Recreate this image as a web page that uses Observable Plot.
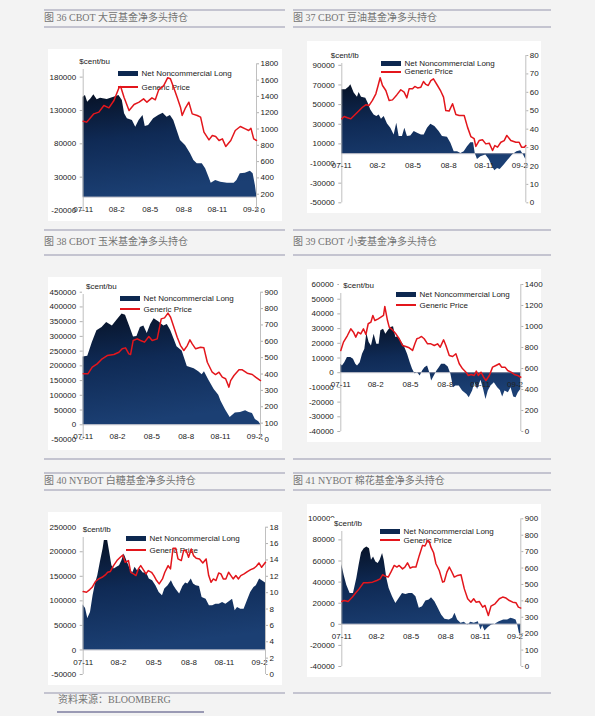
<!DOCTYPE html>
<html><head><meta charset="utf-8">
<script src="https://cdn.jsdelivr.net/npm/d3@7"></script>
<script src="https://cdn.jsdelivr.net/npm/@observablehq/plot@0.6"></script>
<style>
body{margin:0;background:#f3f3f3;width:595px;height:716px;position:relative;overflow:hidden;font-family:"Liberation Sans",Arial,sans-serif;}
.hr{position:absolute;height:1.5px;background:#c4c4d0;}
.title{position:absolute;font-family:"Liberation Serif","Noto Sans CJK SC",serif;font-size:10px;line-height:12px;color:#747474;white-space:nowrap;letter-spacing:0px;}
.box{position:absolute;background:#fff;}
.box svg{position:absolute;left:0;top:0;}
.unit{position:absolute;font-size:8px;line-height:9px;color:#222;background:#fff;padding:1px 3px 3px 4px;white-space:nowrap;}
.leg{position:absolute;font-size:8px;line-height:9px;color:#222;white-space:nowrap;}
.sw{position:absolute;}
</style></head><body>
<script>
// ---------- shared x ticks (months since 2007-11) ----------
const xTickMonths = [0, 3, 6, 9, 12, 15];
const xTickLabels = ["07-11", "08-2", "08-5", "08-8", "08-11", "09-2"];
const xDomain = [0, 15.5];

// ---------- Fig 36 CBOT soybean ----------
const soyNet = [[0,150000],[0.2,152500],[0.4,142500],[0.7,147500],[0.95,153500],[1.25,146000],[1.55,148500],[2.15,146500],[2.75,150000],[3.2,152500],[3.5,145000],[3.7,125000],[3.95,117500],[4.4,115000],[4.7,105000],[5.0,115000],[5.35,122500],[5.55,106000],[5.85,107500],[6.3,117500],[6.75,122500],[7.15,126000],[7.5,120000],[7.8,122500],[8.1,115000],[8.4,100000],[8.7,85000],[9.15,77500],[9.6,65000],[9.9,55000],[10.2,50000],[10.65,50000],[10.95,42500],[11.25,30000],[11.45,21000],[11.85,25000],[12.3,22500],[12.9,21000],[13.5,21000],[13.75,25000],[14.05,35000],[14.5,36000],[14.95,39000],[15.2,35000],[15.4,17500],[15.5,5000]];
const soyPrice = [[0,1096],[0.3,1084],[0.5,1113],[0.95,1186],[1.4,1207],[1.85,1288],[2.3,1260],[2.75,1350],[3.2,1505],[3.35,1521],[3.65,1390],[4.1,1227],[4.55,1300],[5.0,1329],[5.4,1370],[5.7,1329],[6.15,1382],[6.45,1358],[6.75,1480],[7.2,1533],[7.55,1628],[7.8,1616],[8.1,1505],[8.4,1390],[8.7,1268],[8.85,1166],[9.15,1260],[9.45,1329],[9.75,1186],[10.2,1166],[10.5,1145],[10.8,961],[11.25,867],[11.55,920],[11.85,908],[12.15,859],[12.45,879],[12.75,785],[13.2,859],[13.6,982],[14.05,1031],[14.5,1002],[14.8,982],[15.0,1010],[15.25,879],[15.5,859]];
const soyLeftTicks = [-20000, 30000, 80000, 130000, 180000];
const soyRightTicks = [0, 200, 400, 600, 800, 1000, 1200, 1400, 1600, 1800];

// ---------- Fig 37 CBOT soybean oil ----------
const soyOilNet = [[0,65000],[0.34,65000],[0.62,67800],[0.76,70200],[1.04,61700],[1.32,57600],[1.46,62300],[1.66,57600],[2.02,56500],[2.22,51400],[2.44,44600],[2.72,39500],[2.95,37800],[3.15,39500],[3.34,35100],[3.57,37800],[3.85,30300],[4.13,25900],[4.41,19100],[4.63,31000],[4.83,17400],[5.11,17400],[5.31,25900],[5.53,17400],[5.81,18100],[6.1,22500],[6.38,20800],[6.71,19100],[6.94,19100],[7.22,25900],[7.5,30000],[7.84,27600],[8.2,22500],[8.48,17400],[8.9,16700],[9.19,10600],[9.47,2000],[9.75,2000],[10.03,300],[10.31,2000],[10.59,7200],[10.87,11200],[11.1,11200],[11.24,300],[11.43,-5800],[11.71,-3100],[12.13,-1400],[12.42,-5800],[12.7,-13300],[12.89,-17400],[13.12,-15000],[13.34,-16000],[13.68,-11600],[14.02,-6500],[14.38,-1400],[14.75,2000],[15.08,3100],[15.31,-1400],[15.5,-5800]];
const soyOilPrice = [[0,45.6],[0.2,46.9],[0.48,46.2],[0.76,45.6],[1.04,47.4],[1.32,49.2],[1.74,51.9],[2.02,53.2],[2.3,52.9],[2.58,55.6],[2.87,59.2],[3.06,63.7],[3.23,67.9],[3.43,63.7],[3.71,61.0],[3.99,55.6],[4.27,55.9],[4.63,58.6],[4.97,61.4],[5.25,60.1],[5.48,57.0],[5.67,61.9],[5.96,61.9],[6.15,63.2],[6.38,62.4],[6.66,62.8],[6.88,65.9],[7.08,64.3],[7.28,63.7],[7.5,66.4],[7.72,67.3],[8.06,63.7],[8.34,60.6],[8.57,57.4],[8.76,50.1],[9.04,49.8],[9.33,53.8],[9.61,48.0],[9.89,47.4],[10.31,47.4],[10.59,41.1],[10.87,36.0],[11.15,34.8],[11.29,30.6],[11.57,33.8],[11.85,34.2],[12.13,32.0],[12.42,32.4],[12.7,28.4],[12.89,31.1],[13.12,30.2],[13.4,32.9],[13.68,33.8],[13.9,36.6],[14.24,33.8],[14.66,32.9],[14.94,32.9],[15.14,30.2],[15.37,30.2],[15.5,31.1]];
const soyOilLeftTicks = [-50000, -30000, -10000, 10000, 30000, 50000, 70000, 90000];
const soyOilRightTicks = [0, 10, 20, 30, 40, 50, 60, 70, 80];

// ---------- Fig 38 CBOT corn ----------
const cornNet = [[0,230000],[0.4,233000],[0.8,279000],[1.2,319000],[1.65,330000],[2.05,347000],[2.55,335000],[2.95,355000],[3.4,376000],[3.7,372000],[4.1,330000],[4.4,298000],[4.7,300000],[5.0,330000],[5.3,335000],[5.6,310000],[5.9,340000],[6.2,360000],[6.6,350000],[7.05,335000],[7.35,340000],[7.65,320000],[7.95,290000],[8.2,265000],[8.65,250000],[9.1,198000],[9.7,190000],[10.1,180000],[10.4,170000],[10.6,180000],[11.0,150000],[11.45,120000],[11.85,100000],[12.05,80000],[12.45,50000],[12.85,25000],[13.3,40000],[13.75,42000],[14.2,48000],[14.5,42000],[14.8,38000],[15.05,18000],[15.35,10000],[15.5,2000]];
const cornPrice = [[0,401],[0.41,401],[0.79,442],[1.22,462],[1.66,493],[2.1,513],[2.68,519],[3.12,533],[3.41,554],[3.7,560],[3.99,523],[4.14,519],[4.37,605],[4.72,615],[5.01,605],[5.36,595],[5.74,629],[6.03,605],[6.47,615],[6.82,737],[7.11,743],[7.41,772],[7.64,747],[7.93,686],[8.22,625],[8.51,574],[8.8,544],[9.1,574],[9.33,609],[9.53,584],[9.83,554],[10.26,564],[10.55,560],[10.85,472],[11.28,411],[11.57,397],[11.87,411],[12.16,381],[12.45,371],[12.74,320],[12.89,360],[13.18,391],[13.62,426],[13.91,426],[14.34,405],[14.78,397],[15.07,381],[15.5,360]];
const cornLeftTicks = [-50000, 0, 50000, 100000, 150000, 200000, 250000, 300000, 350000, 400000, 450000];
const cornRightTicks = [0, 100, 200, 300, 400, 500, 600, 700, 800, 900];

// ---------- Fig 39 CBOT wheat ----------
const wheatNet = [[0,5700],[0.14,4600],[0.34,6800],[0.57,10300],[0.86,10300],[1.09,9100],[1.29,5700],[1.44,4600],[1.67,6800],[1.87,12500],[2.07,16000],[2.24,26700],[2.44,20500],[2.64,18200],[2.87,26200],[3.1,19400],[3.3,19400],[3.45,28500],[3.68,29600],[3.88,26200],[4.08,28500],[4.31,30800],[4.54,31200],[4.74,23900],[4.94,24400],[5.17,21700],[5.46,18200],[5.75,12500],[5.98,6800],[6.18,2300],[6.38,-700],[6.61,0],[6.84,-2300],[7.04,1100],[7.24,3400],[7.47,4600],[7.7,-1100],[7.82,-5700],[8.05,-2300],[8.28,1100],[8.48,3400],[8.68,5700],[8.97,5700],[9.25,3900],[9.48,-1100],[9.71,-10300],[9.91,-9100],[10.2,-9100],[10.49,-12500],[10.86,-14800],[11.06,-17100],[11.35,-12500],[11.55,-6800],[11.78,-11400],[12.07,-5200],[12.3,-11400],[12.5,-18200],[12.7,-12500],[12.93,-9100],[13.22,-6800],[13.51,-10300],[13.74,-12100],[13.94,-16600],[14.14,-12500],[14.43,-13700],[14.66,-10300],[14.89,-16600],[15.09,-17100],[15.29,-13700],[15.5,-11400]];
const wheatPrice = [[0,772],[0.23,851],[0.57,914],[0.86,978],[1.09,946],[1.29,899],[1.49,946],[1.72,930],[1.95,978],[2.16,924],[2.36,1026],[2.59,1041],[2.76,1105],[2.93,1057],[3.22,1073],[3.45,1089],[3.68,1105],[3.79,1191],[4.02,1057],[4.17,994],[4.45,968],[4.74,930],[5.03,883],[5.32,819],[5.6,810],[5.89,797],[6.18,772],[6.38,835],[6.55,883],[6.75,892],[6.95,905],[7.18,883],[7.47,835],[7.76,835],[8.05,819],[8.33,835],[8.56,803],[8.85,873],[9.05,819],[9.34,724],[9.63,714],[9.91,740],[10.2,645],[10.49,597],[10.78,565],[10.98,533],[11.21,543],[11.49,533],[11.67,575],[11.84,533],[12.07,565],[12.3,517],[12.5,486],[12.79,533],[13.07,613],[13.36,629],[13.65,645],[13.85,613],[14.14,613],[14.37,581],[14.66,565],[14.94,543],[15.23,533],[15.5,517]];
const wheatLeftTicks = [-40000, -30000, -20000, -10000, 0, 10000, 20000, 30000, 40000, 50000, 60000];
const wheatRightTicks = [0, 200, 400, 600, 800, 1000, 1200, 1400];

// ---------- Fig 40 NYBOT sugar ----------
const sugarNet = [[0,91300],[0.2,84400],[0.39,64000],[0.62,76300],[0.84,110300],[1.04,134200],[1.24,151200],[1.46,178400],[1.69,205700],[1.8,222700],[2.08,222700],[2.25,198900],[2.44,171600],[2.64,164800],[2.87,168200],[3.09,171600],[3.29,181800],[3.48,195400],[3.71,181800],[3.99,164800],[4.21,156600],[4.41,168200],[4.61,161400],[4.83,164800],[5.11,156600],[5.39,156600],[5.62,144400],[5.9,141000],[6.18,130800],[6.46,117100],[6.74,110300],[6.94,123900],[7.22,130800],[7.5,141000],[7.7,130800],[7.92,122600],[8.2,113700],[8.48,129400],[8.71,136200],[8.9,134200],[9.19,144400],[9.38,134200],[9.61,130800],[9.89,129400],[10.11,106900],[10.45,103500],[10.73,89900],[11.01,89900],[11.29,93300],[11.57,93300],[11.85,96700],[12.13,93300],[12.42,98100],[12.7,103500],[12.92,79700],[13.12,86500],[13.4,83100],[13.68,83100],[13.96,100100],[14.24,117100],[14.52,127300],[14.72,130800],[15.0,144400],[15.22,141000],[15.5,136200]];
const sugarPrice = [[0,10.13],[0.28,10.05],[0.56,10.38],[0.76,10.66],[1.04,11.36],[1.32,11.68],[1.6,11.88],[1.88,12.17],[2.08,12.49],[2.3,12.58],[2.58,13.31],[2.87,13.92],[3.15,14.33],[3.37,14.61],[3.57,13.72],[3.85,13.92],[4.04,12.49],[4.27,12.29],[4.49,12.09],[4.69,12.9],[4.89,13.31],[5.11,12.82],[5.34,12.29],[5.53,12.7],[5.81,12.49],[6.01,12.09],[6.24,11.48],[6.46,11.07],[6.74,11.68],[6.94,12.49],[7.22,13.31],[7.42,12.9],[7.64,15.43],[7.87,15.43],[8.06,14.12],[8.34,13.92],[8.54,15.14],[8.76,15.14],[8.96,14.33],[9.19,15.34],[9.38,14.53],[9.61,14.2],[9.89,14.12],[10.17,13.63],[10.45,14.12],[10.67,12.09],[10.87,11.27],[11.07,11.68],[11.29,11.48],[11.52,12.41],[11.71,12.29],[11.91,11.68],[12.13,11.68],[12.36,12.49],[12.56,12.09],[12.75,11.68],[12.98,12.09],[13.2,11.68],[13.4,12.09],[13.68,12.29],[13.96,12.58],[14.24,12.82],[14.52,12.98],[14.72,13.23],[14.94,13.63],[15.17,13.1],[15.5,13.72]];
const sugarLeftTicks = [-50000, 0, 50000, 100000, 150000, 200000, 250000];
const sugarRightTicks = [0, 2, 4, 6, 8, 10, 12, 14, 16, 18];

// ---------- Fig 41 NYBOT cotton ----------
const cottonNet = [[0,56600],[0.2,46500],[0.43,37100],[0.72,29200],[1.01,29200],[1.3,43400],[1.5,56000],[1.71,67900],[1.94,71700],[2.17,73300],[2.4,71700],[2.57,60700],[2.75,63800],[2.95,59100],[3.15,57600],[3.32,60700],[3.53,67000],[3.67,60700],[3.9,43400],[4.1,34000],[4.39,26100],[4.68,19800],[4.97,24500],[5.26,29200],[5.55,28300],[5.84,29200],[6.13,29200],[6.42,26100],[6.71,15100],[6.99,16700],[7.28,22000],[7.57,23000],[7.77,25200],[8.06,21400],[8.35,15100],[8.64,8800],[8.93,4700],[9.31,4100],[9.6,5700],[9.8,10400],[10.03,4100],[10.32,900],[10.61,1900],[10.9,-600],[11.18,1900],[11.47,900],[11.82,2500],[12.05,-5300],[12.2,-1300],[12.4,-6300],[12.69,-3100],[12.98,-600],[13.27,0],[13.64,2500],[14.02,4100],[14.36,4100],[14.65,5700],[14.88,5000],[15.09,4100],[15.23,-600],[15.38,-8500],[15.5,-10100]];
const cottonPrice = [[0,396],[0.2,402],[0.55,396],[0.92,423],[1.21,449],[1.5,473],[1.88,510],[2.23,510],[2.66,514],[3.03,524],[3.32,534],[3.53,559],[3.73,551],[4.02,545],[4.25,575],[4.54,616],[4.77,606],[4.97,616],[5.26,595],[5.46,606],[5.69,632],[5.92,599],[6.13,606],[6.42,606],[6.71,677],[6.99,738],[7.2,734],[7.43,768],[7.57,762],[7.72,727],[7.95,693],[8.15,626],[8.44,585],[8.73,514],[8.87,518],[9.1,575],[9.31,606],[9.51,579],[9.74,545],[10.03,555],[10.32,559],[10.61,473],[10.9,413],[11.18,392],[11.42,413],[11.62,392],[11.91,396],[12.2,362],[12.4,372],[12.69,311],[12.92,368],[13.27,382],[13.64,413],[13.93,423],[14.22,417],[14.51,402],[14.8,392],[15.09,388],[15.29,362],[15.5,356]];
const cottonLeftTicks = [-40000, -20000, 0, 20000, 40000, 60000, 80000, 100000];
const cottonRightTicks = [0, 100, 200, 300, 400, 500, 600, 700, 800, 900];

// ---------- text ----------
const titles = ["图 36 CBOT 大豆基金净多头持仓", "图 37 CBOT 豆油基金净多头持仓", "图 38 CBOT 玉米基金净多头持仓", "图 39 CBOT 小麦基金净多头持仓", "图 40 NYBOT 白糖基金净多头持仓", "图 41 NYBOT 棉花基金净多头持仓"];
const seriesNames = ["Net Noncommercial Long", "Generic Price"];
const sourceText = "资料来源：BLOOMBERG";

const panels = [
  {title: titles[0], tc: [44, 17.5], box: [48, 49, 234, 172], m: [14.3, 26, 11, 34.7], ld: [-20000, 200000], rd: [0, 1800], lt: soyLeftTicks, rt: soyRightTicks, net: soyNet, price: soyPrice, unit: "$cent/bu", up: [31.3, 12.7], leg: [70, 24.5, 38.3]},
  {title: titles[1], tc: [293, 17.5], box: [306.7, 41, 234, 172], m: [14, 15.7, 10.7, 34.3], ld: [-50000, 100000], rd: [0, 80], lt: soyOilLeftTicks, rt: soyOilRightTicks, net: soyOilNet, price: soyOilPrice, unit: "$cent/lb", up: [24, 14], leg: [74.3, 22.3, 30.7]},
  {title: titles[2], tc: [44, 241.7], box: [48, 277, 234, 173], m: [14.7, 22, 11, 34.7], ld: [-50000, 450000], rd: [0, 900], lt: cornLeftTicks, rt: cornRightTicks, net: cornNet, price: cornPrice, unit: "$cent/bu", up: [38, 9.7], leg: [72, 21.2, 32.3]},
  {title: titles[3], tc: [293, 241.7], box: [306.7, 269, 234, 173], m: [15, 20.7, 11, 33.3], ld: [-40000, 60000], rd: [0, 1400], lt: wheatLeftTicks, rt: wheatRightTicks, net: wheatNet, price: wheatPrice, unit: "$cent/bu", up: [36.6, 16.7], leg: [89.3, 25.2, 36.3]},
  {title: titles[4], tc: [44, 481], box: [48, 512, 234, 173], m: [14.7, 17, 11, 34.7], ld: [-50000, 250000], rd: [0, 18], lt: sugarLeftTicks, rt: sugarRightTicks, net: sugarNet, price: sugarPrice, unit: "$cent/lb", up: [34.7, 17.3], leg: [78, 26.3, 38]},
  {title: titles[5], tc: [293, 481], box: [306.7, 504, 234, 173], m: [14.3, 20.7, 11, 34.3], ld: [-40000, 100000], rd: [0, 900], lt: cottonLeftTicks, rt: cottonRightTicks, net: cottonNet, price: cottonPrice, unit: "$cent/lb", up: [27.3, 19.3], leg: [73.3, 27.7, 36.3]}
];

function div(cls, css, parent, text) {
  const d = document.createElement("div");
  if (cls) d.className = cls;
  Object.assign(d.style, css);
  if (text != null) d.textContent = text;
  (parent || document.body).appendChild(d);
  return d;
}

// header / separator rules
const ruleYs = [9, 26, 229, 254, 458, 472, 489, 692];
for (const y of ruleYs) {
  div("hr", {left: "44px", top: y + "px", width: "241px"});
  div("hr", {left: "293px", top: y + "px", width: "258px"});
}
div("title", {left: "58px", top: "694px"}, null, sourceText);
div("", {position: "absolute", left: "57px", top: "711px", width: "147px", height: "2px", background: "#9a9ab4"});

const fmt = d => String(d);
const baseStyle = {background: "transparent", fontFamily: "Liberation Sans, Arial, sans-serif", fontSize: "8px", color: "#222", overflow: "visible"};

panels.forEach((p, k) => {
  div("title", {left: p.tc[0] + "px", top: (p.tc[1] - 6) + "px"}, null, p.title);
  const [bx, by, bw, bh] = p.box;
  const box = div("box", {left: bx + "px", top: by + "px", width: bw + "px", height: bh + "px"});
  const [mt, mr, mb, ml] = p.m;
  const common = {width: bw, height: bh, marginTop: mt, marginRight: mr, marginBottom: mb, marginLeft: ml, style: baseStyle};
  const gid = "g" + k;

  const left = Plot.plot({
    ...common,
    x: {domain: xDomain, axis: null},
    y: {domain: p.ld},
    marks: [
      Plot.areaY(p.net, {x: d => d[0], y: d => d[1], fill: `url(#${gid})`}),
      Plot.ruleY([0], {stroke: "#9a9aa8", strokeWidth: 0.6}),
      Plot.ruleX([xDomain[0]], {stroke: "#b0b0b0", strokeWidth: 0.8}),
      Plot.axisY(p.lt, {anchor: "left", tickSize: 3, tickPadding: 4, tickFormat: fmt, stroke: "#b0b0b0", fill: "#222", label: null}),
      Plot.text(xTickMonths, {x: d => d, y: () => 0, dy: 12, text: (d, i) => xTickLabels[i], fill: "#222"})
    ]
  });
  const ns = "http://www.w3.org/2000/svg";
  const defs = document.createElementNS(ns, "defs");
  defs.innerHTML = `<linearGradient id="${gid}" x1="0" y1="0" x2="0.2" y2="1"><stop offset="0" stop-color="#071226"/><stop offset="0.45" stop-color="#0f2a55"/><stop offset="1" stop-color="#1b3f73"/></linearGradient>`;
  left.insertBefore(defs, left.firstChild);
  box.appendChild(left);

  // legend
  const [lx, r1, r2] = p.leg;
  div("sw", {left: lx + "px", top: (r1 - 2.5) + "px", width: "20px", height: "5px", background: "#0d2850"}, box);
  div("leg", {left: (lx + 23.5) + "px", top: (r1 - 4.5) + "px"}, box, seriesNames[0]);
  div("sw", {left: lx + "px", top: (r2 - 1) + "px", width: "20px", height: "2px", background: "#e3161c"}, box);
  div("leg", {left: (lx + 23.5) + "px", top: (r2 - 4.5) + "px"}, box, seriesNames[1]);
  // unit label
  div("unit", {left: (p.up[0] - 4) + "px", top: (p.up[1] - 5.5) + "px"}, box, p.unit);

  const right = Plot.plot({
    ...common,
    x: {domain: xDomain, axis: null},
    y: {domain: p.rd},
    marks: [
      Plot.ruleX([xDomain[1]], {stroke: "#b0b0b0", strokeWidth: 0.8}),
      Plot.axisY(p.rt, {anchor: "right", tickSize: 2, tickPadding: 2, tickFormat: fmt, stroke: "#b0b0b0", fill: "#222", label: null}),
      Plot.lineY(p.price, {x: d => d[0], y: d => d[1], stroke: "#e3161c", strokeWidth: 1.5})
    ]
  });
  box.appendChild(right);
});
</script>
</body></html>
